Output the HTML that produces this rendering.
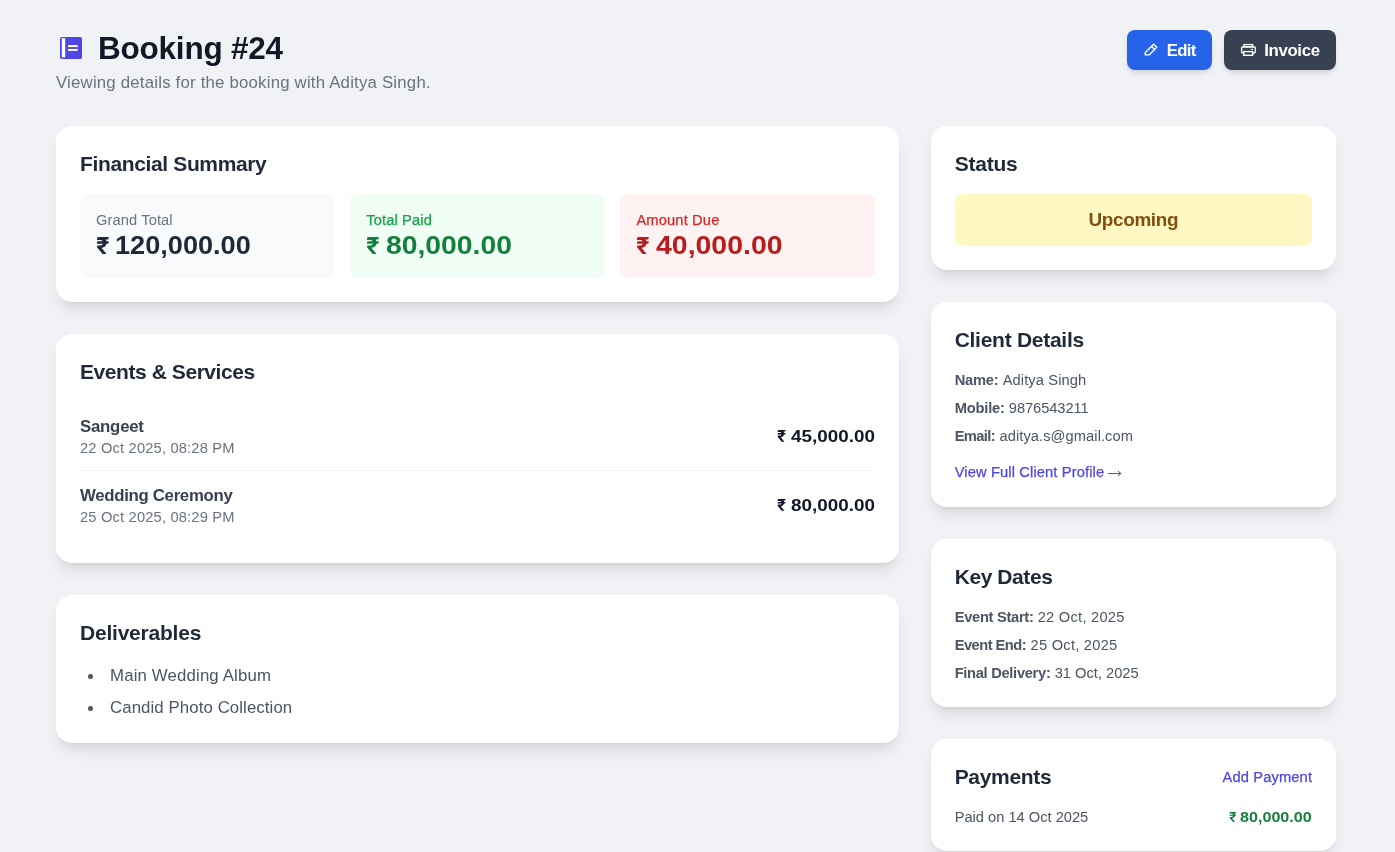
<!DOCTYPE html>
<html><head><meta charset="utf-8">
<style>
*{box-sizing:border-box;margin:0;padding:0}
html,body{width:1395px;height:852px;overflow:hidden}
body{background:#f0f2f5;font-family:"Liberation Sans", sans-serif;color:#1f2937;-webkit-font-smoothing:antialiased}
.wrap{position:absolute;left:56px;top:30px;width:1280px;will-change:transform}
.hdr{display:flex;justify-content:space-between;align-items:flex-start;margin-bottom:32px;height:64px}
h1{font-size:30px;line-height:36px;font-weight:700;color:#111827;display:flex;align-items:center;white-space:nowrap}
.sub{font-size:16px;line-height:24px;color:#6b7280;margin-top:4px;white-space:nowrap}
.btns{display:flex;gap:12px}
.btn{display:flex;align-items:center;height:40px;padding:0 16px;border-radius:8px;color:#fff;font-weight:600;font-size:16px;line-height:24px;box-shadow:0 4px 6px -1px rgba(0,0,0,.1),0 2px 4px -2px rgba(0,0,0,.1)}
.btn svg{margin-right:8px}
.grid{display:grid;grid-template-columns:repeat(3,minmax(0,1fr));gap:32px}
.col2{grid-column:span 2/span 2}
.stack>*+*{margin-top:32px}
.card{background:#fff;padding:24px;border-radius:16px;box-shadow:0 10px 15px -3px rgba(0,0,0,.1),0 4px 6px -4px rgba(0,0,0,.1)}
h2{font-size:20px;line-height:28px;font-weight:700;color:#1f2937;margin-bottom:16px;white-space:nowrap}
.fin{display:grid;grid-template-columns:repeat(3,minmax(0,1fr));gap:16px}
.box{padding:16px;border-radius:8px}
.lbl{font-size:14px;line-height:20px;white-space:nowrap}
.val{font-size:24px;line-height:32px;font-weight:700;white-space:nowrap}
.ev{display:flex;justify-content:space-between;align-items:center;padding:12px 0;border-bottom:1px solid #f3f4f6}
.ev:last-child{border-bottom:0}
.evn{font-size:16px;line-height:24px;font-weight:600;color:#374151;white-space:nowrap}
.evd{font-size:14px;line-height:20px;color:#6b7280;white-space:nowrap}
.evp{font-size:16px;line-height:24px;font-weight:700;color:#111827;white-space:nowrap}
ul{list-style:none}
ul li{font-size:16px;line-height:24px;color:#4b5563;position:relative;padding-left:30px;white-space:nowrap}
ul li+li{margin-top:8px}
ul li:before{content:"";position:absolute;left:8px;top:11px;width:5px;height:5px;border-radius:50%;background:#4b5563}
.stat{background:#fef9c3;color:#854d0e;border-radius:8px;padding:12px;text-align:center;font-size:18px;line-height:28px;font-weight:700}
.row{font-size:14px;line-height:20px;color:#4b5563;white-space:nowrap}
.row+.row{margin-top:8px}
.row b{font-weight:600;color:#4b5563}
.link{position:relative;display:block;margin-top:16px;padding-bottom:1px;font-size:14px;line-height:20px;color:#4f46e5;white-space:nowrap;font-weight:500}
.ph{display:flex;justify-content:space-between;align-items:center;margin-bottom:16px}
.ph h2{margin-bottom:0}
.addp{font-size:14px;line-height:20px;color:#4f46e5;font-weight:500}
.pay{display:flex;justify-content:space-between;font-size:14px;line-height:20px;white-space:nowrap}
.rs{display:inline-block}
.med{font-weight:500}
h1{height:36px}
.sub{height:24px}
h2{height:28px}
.lbl{height:20px}
.val{height:32px}
.evn{height:24px}
.evd{height:20px}
.evp{height:24px}
ul li{height:24px}
.stat{height:52px}
.row{height:20px}
.link{height:21px}
.ph{height:28px}
.pay{height:20px}
.btn{flex:none}
.btns .btn:nth-child(1){width:85.5px}
.btns .btn:nth-child(2){width:111.8px}
.med,.link,.addp{-webkit-text-stroke:0.25px currentColor}

#t1{font-size:31.500px;letter-spacing:-0.219px}
#t2{font-size:16.800px;letter-spacing:0.207px;position:relative;top:1px}
#r2{position:relative;top:1px}
#t3{font-size:16.800px;letter-spacing:-0.729px;margin-left:0.016px;position:relative;top:1px}
#r3{position:relative;top:1px}
#t4{font-size:16.800px;letter-spacing:-0.344px;margin-left:0.031px;position:relative;top:1px}
#r4{position:relative;top:1px}
#t5{font-size:21.000px;letter-spacing:-0.361px}
#t6{font-size:14.700px;letter-spacing:0.094px}
#t7{font-size:25.200px;display:inline-block;transform:scaleX(1.0772);transform-origin:0 0;margin-left:-0.969px;position:relative;top:-1px}
#r7{position:relative;top:-1px}
#t8{font-size:14.700px;letter-spacing:0.122px}
#t9{font-size:25.200px;display:inline-block;transform:scaleX(1.1240);transform-origin:0 0;margin-left:-0.969px;position:relative;top:-1px}
#r9{position:relative;top:-1px}
#t10{font-size:14.700px;letter-spacing:0.139px}
#t11{font-size:25.200px;display:inline-block;transform:scaleX(1.1294);transform-origin:0 0;margin-left:-0.969px;position:relative;top:-1px}
#r11{position:relative;top:-1px}
#t12{font-size:21.000px;letter-spacing:-0.432px}
#t13{font-size:16.800px;letter-spacing:-0.221px;position:relative;top:1px}
#r13{position:relative;top:1px}
#t14{font-size:14.700px;letter-spacing:0.172px}
#t15{font-size:16.800px;display:inline-block;transform:scaleX(1.1239);transform-origin:0 0;margin-right:9.250px;position:relative;top:1px}
#r15{position:relative;top:1px}
#t16{font-size:16.800px;letter-spacing:-0.301px;position:relative;top:1px}
#r16{position:relative;top:1px}
#t17{font-size:14.700px;letter-spacing:0.172px}
#t18{font-size:16.800px;display:inline-block;transform:scaleX(1.1247);transform-origin:0 0;margin-right:9.312px;position:relative;top:1px}
#r18{position:relative;top:1px}
#t19{font-size:21.000px;letter-spacing:-0.216px}
#t20{font-size:16.800px;letter-spacing:0.158px;position:relative;top:1px}
#r20{position:relative;top:1px}
#t21{font-size:16.800px;letter-spacing:0.098px;position:relative;top:1px}
#r21{position:relative;top:1px}
#t22{font-size:21.000px;letter-spacing:-0.216px}
#t23{font-size:18.900px;letter-spacing:-0.330px}
#t24{font-size:21.000px;letter-spacing:-0.273px}
#t25{font-size:14.700px;letter-spacing:-0.219px}
#t26{font-size:14.700px;letter-spacing:0.102px;margin-left:0.266px}
#t27{font-size:14.700px;letter-spacing:-0.193px}
#t28{font-size:14.700px;letter-spacing:-0.083px;margin-left:0.234px}
#t29{font-size:14.700px;letter-spacing:-0.631px}
#t30{font-size:14.700px;letter-spacing:0.060px;margin-left:0.672px}
#t31{font-size:14.700px;letter-spacing:0.122px}
#t32{font-size:21.000px;letter-spacing:-0.416px}
#t33{font-size:14.700px;letter-spacing:-0.301px}
#t34{font-size:14.700px;letter-spacing:0.234px;margin-left:0.344px}
#t35{font-size:14.700px;letter-spacing:-0.524px}
#t36{font-size:14.700px;letter-spacing:0.233px;margin-left:0.578px}
#t37{font-size:14.700px;letter-spacing:-0.306px}
#t38{font-size:14.700px;letter-spacing:-0.014px;margin-left:0.344px}
#t39{font-size:21.000px;letter-spacing:-0.315px}
#t40{font-size:14.700px;letter-spacing:0.123px;margin-right:-0.123px}
#t41{font-size:14.700px;letter-spacing:-0.016px}
#t42{font-size:14.700px;display:inline-block;transform:scaleX(1.0980);transform-origin:0 0;margin-right:6.406px}
</style></head><body>
<div class="wrap">
 <div class="hdr">
  <div>
   <h1><svg width="22" height="22" viewBox="0 0 22 22" style="margin:0 16px 0 4px;flex:none" class="bico">
     <rect x="0" y="0" width="22" height="22" rx="1.8" fill="#4f46e5"/>
     <rect x="1.8" y="1.2" width="3.4" height="19.2" fill="#fff"/>
     <rect x="8.0" y="8.1" width="9.7" height="1.95" fill="#fff"/>
     <rect x="8.0" y="11.95" width="9.7" height="1.95" fill="#fff"/>
   </svg><span id="t1">Booking #24</span></h1>
   <p class="sub"><span id="t2">Viewing details for the booking with Aditya Singh.</span></p>
  </div>
  <div class="btns">
   <div class="btn" style="background:#2563eb"><svg width="16" height="16" viewBox="0 0 16 16" fill="none" stroke="#fff" stroke-width="1.4" stroke-linejoin="round" stroke-linecap="round" class="pen" style="flex:none"><path d="M10.6 2.2L13.7 5.3L6.1 12.9H2.3V10.6Z M8.5 4.3L11.6 7.4"/></svg><span id="t3">Edit</span></div>
   <div class="btn" style="background:#374151"><svg width="16" height="16" viewBox="0 0 16 16" class="prn" style="flex:none"><rect x="4.0" y="2.6" width="8.6" height="2.6" fill="none" stroke="#fff" stroke-width="1.35"/><rect x="1.6" y="4.7" width="13.7" height="6.45" rx="1.6" fill="none" stroke="#fff" stroke-width="1.4"/><rect x="1.6" y="4.7" width="13.7" height="1.2" fill="#d1d5db"/><rect x="3.75" y="9.6" width="8.95" height="3.7" fill="#374151" stroke="#fff" stroke-width="1.4"/><rect x="10.9" y="6.7" width="2.1" height="1.2" fill="#e5e7eb"/></svg><span id="t4">Invoice</span></div>
  </div>
 </div>
 <div class="grid">
  <div class="col2 stack">
   <div class="card">
    <h2><span id="t5">Financial Summary</span></h2>
    <div class="fin">
     <div class="box" style="background:#f9fafb"><p class="lbl" style="color:#6b7280"><span id="t6">Grand Total</span></p><p class="val" style="color:#1f2937"><svg id="r7" class="rs" viewBox="0 0 1170 1491" style="width:0.5713em;height:0.728em"><path d="M1099 369H892C882 307 862 251 830 204H1045L1100 0H132L72 250H344C468 250 542 296 576 369H125L72 569H584C553 658 472 716 344 716H96L97 894L596 1490H930V1477L484 929L495 924C735 878 857 756 890 569H1045Z" fill="currentColor"/></svg> <span id="t7">120,000.00</span></p></div>
     <div class="box" style="background:#f0fdf4"><p class="lbl med" style="color:#16a34a"><span id="t8">Total Paid</span></p><p class="val" style="color:#15803d"><svg id="r9" class="rs" viewBox="0 0 1170 1491" style="width:0.5713em;height:0.728em"><path d="M1099 369H892C882 307 862 251 830 204H1045L1100 0H132L72 250H344C468 250 542 296 576 369H125L72 569H584C553 658 472 716 344 716H96L97 894L596 1490H930V1477L484 929L495 924C735 878 857 756 890 569H1045Z" fill="currentColor"/></svg> <span id="t9">80,000.00</span></p></div>
     <div class="box" style="background:#fef2f2"><p class="lbl med" style="color:#dc2626"><span id="t10">Amount Due</span></p><p class="val" style="color:#b91c1c"><svg id="r11" class="rs" viewBox="0 0 1170 1491" style="width:0.5713em;height:0.728em"><path d="M1099 369H892C882 307 862 251 830 204H1045L1100 0H132L72 250H344C468 250 542 296 576 369H125L72 569H584C553 658 472 716 344 716H96L97 894L596 1490H930V1477L484 929L495 924C735 878 857 756 890 569H1045Z" fill="currentColor"/></svg> <span id="t11">40,000.00</span></p></div>
    </div>
   </div>
   <div class="card">
    <h2><span id="t12">Events &amp; Services</span></h2>
    <div>
     <div class="ev"><div><p class="evn"><span id="t13">Sangeet</span></p><p class="evd"><span id="t14">22 Oct 2025, 08:28 PM</span></p></div><p class="evp"><svg id="r15" class="rs" viewBox="0 0 1170 1491" style="width:0.5713em;height:0.728em"><path d="M1099 369H892C882 307 862 251 830 204H1045L1100 0H132L72 250H344C468 250 542 296 576 369H125L72 569H584C553 658 472 716 344 716H96L97 894L596 1490H930V1477L484 929L495 924C735 878 857 756 890 569H1045Z" fill="currentColor"/></svg> <span id="t15">45,000.00</span></p></div>
     <div class="ev"><div><p class="evn"><span id="t16">Wedding Ceremony</span></p><p class="evd"><span id="t17">25 Oct 2025, 08:29 PM</span></p></div><p class="evp"><svg id="r18" class="rs" viewBox="0 0 1170 1491" style="width:0.5713em;height:0.728em"><path d="M1099 369H892C882 307 862 251 830 204H1045L1100 0H132L72 250H344C468 250 542 296 576 369H125L72 569H584C553 658 472 716 344 716H96L97 894L596 1490H930V1477L484 929L495 924C735 878 857 756 890 569H1045Z" fill="currentColor"/></svg> <span id="t18">80,000.00</span></p></div>
    </div>
   </div>
   <div class="card">
    <h2><span id="t19">Deliverables</span></h2>
    <ul><li><span id="t20">Main Wedding Album</span></li><li><span id="t21">Candid Photo Collection</span></li></ul>
   </div>
  </div>
  <div class="stack">
   <div class="card">
    <h2><span id="t22">Status</span></h2>
    <div class="stat"><span id="t23">Upcoming</span></div>
   </div>
   <div class="card">
    <h2><span id="t24">Client Details</span></h2>
    <p class="row"><b><span id="t25">Name:</span></b> <span id="t26">Aditya Singh</span></p>
    <p class="row"><b><span id="t27">Mobile:</span></b> <span id="t28">9876543211</span></p>
    <p class="row"><b><span id="t29">Email:</span></b> <span id="t30">aditya.s@gmail.com</span></p>
    <span class="link"><span id="t31">View Full Client Profile</span> <svg width="15" height="7" viewBox="0 0 15 7" style="position:absolute;left:153.5px;top:8px" fill="none" stroke="currentColor" stroke-width="1" stroke-linecap="round"><path d="M0.5 3.5H12.9 M10.2 1.3L12.9 3.5L10.2 5.7"/></svg></span>
   </div>
   <div class="card">
    <h2><span id="t32">Key Dates</span></h2>
    <p class="row"><b><span id="t33">Event Start:</span></b> <span id="t34">22 Oct, 2025</span></p>
    <p class="row"><b><span id="t35">Event End:</span></b> <span id="t36">25 Oct, 2025</span></p>
    <p class="row"><b><span id="t37">Final Delivery:</span></b> <span id="t38">31 Oct, 2025</span></p>
   </div>
   <div class="card">
    <div class="ph"><h2><span id="t39">Payments</span></h2><span id="t40" class="addp">Add Payment</span></div>
    <div class="pay"><span style="color:#4b5563"><span id="t41">Paid on 14 Oct 2025</span></span><span style="color:#15803d;font-weight:600"><svg id="r42" class="rs" viewBox="0 0 1150 1491" style="width:0.5615em;height:0.728em"><path d="M1084 363H877C866 299 844 242 810 193L1031 194L1084 0H124L67 224H342C483 224 565 277 599 363H120L67 555H606C575 656 485 716 342 716H88L90 877L600 1490H900V1477L440 912L449 910C714 878 845 747 876 555H1031Z" fill="currentColor"/></svg> <span id="t42">80,000.00</span></span></div>
   </div>
  </div>
 </div>
</div>
</body></html>
